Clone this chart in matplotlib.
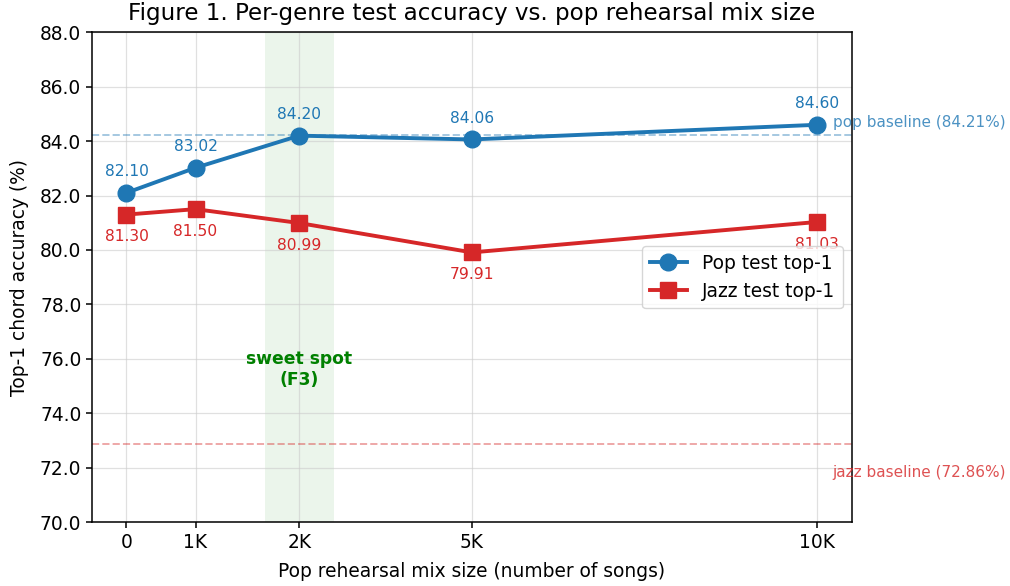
import matplotlib
matplotlib.use('Agg')
import matplotlib.pyplot as plt

# x positions on the axis and their tick labels
x_pos = [0, 1, 2.5, 5, 10]
x_labels = ['0', '1K', '2K', '5K', '10K']

pop_acc = [82.10, 83.02, 84.20, 84.06, 84.60]
jazz_acc = [81.30, 81.50, 80.99, 79.91, 81.03]

pop_baseline = 84.21
jazz_baseline = 72.86

sweet_span = (2.0, 3.0)
y_ticks = [70, 72, 74, 76, 78, 80, 82, 84, 86, 88]

pop_color = '#1f77b4'
jazz_color = '#d62728'

fig, ax = plt.subplots(figsize=(10.1, 5.86), dpi=100)
fig.subplots_adjust(left=0.091, right=0.8435, top=0.945, bottom=0.109)

# vùng sweet spot
ax.axvspan(sweet_span[0], sweet_span[1], color='green', alpha=0.08, lw=0)
ax.text(sum(sweet_span) / 2, 75.6, 'sweet spot\n(F3)', color='green',
        fontsize=12.3, fontweight='bold', ha='center', va='center')

# baselines
ax.axhline(pop_baseline, color=pop_color, ls='--', lw=1.4, alpha=0.4)
ax.axhline(jazz_baseline, color=jazz_color, ls='--', lw=1.4, alpha=0.4)
ax.text(10.22, pop_baseline + 0.48, f'pop baseline ({pop_baseline:.2f}%)',
        color=pop_color, alpha=0.8, fontsize=11, ha='left', va='center', clip_on=False)
ax.text(10.22, jazz_baseline - 1.02, f'jazz baseline ({jazz_baseline:.2f}%)',
        color=jazz_color, alpha=0.8, fontsize=11, ha='left', va='center', clip_on=False)

ax.plot(x_pos, pop_acc, '-o', color=pop_color, lw=2.8, ms=12, label='Pop test top-1')
ax.plot(x_pos, jazz_acc, '-s', color=jazz_color, lw=2.8, ms=12, label='Jazz test top-1')

for x, y in zip(x_pos, pop_acc):
    ax.annotate(f'{y:.2f}', (x, y), xytext=(0, 15), textcoords='offset points',
                ha='center', va='center', color=pop_color, fontsize=11.2)
for x, y in zip(x_pos, jazz_acc):
    ax.annotate(f'{y:.2f}', (x, y), xytext=(0, -16), textcoords='offset points',
                ha='center', va='center', color=jazz_color, fontsize=11.2)

ax.set_xlim(-0.5, 10.5)
ax.set_ylim(70, 88)
ax.set_xticks(x_pos)
ax.set_xticklabels(x_labels)
ax.set_yticks(y_ticks)
ax.set_yticklabels([f'{v:.1f}' for v in y_ticks])
ax.tick_params(labelsize=13.4, width=1.1, length=4)
ax.grid(True, color='#cccccc', alpha=0.6, lw=0.9)
for s in ax.spines.values():
    s.set_linewidth(1.1)

ax.set_xlabel('Pop rehearsal mix size (number of songs)', fontsize=13.4, labelpad=7.5)
ax.set_ylabel('Top-1 chord accuracy (%)', fontsize=13.4, labelpad=8)
ax.set_title('Figure 1. Per-genre test accuracy vs. pop rehearsal mix size', fontsize=16.6, pad=9)
ax.legend(loc='center right', fontsize=13.4)

plt.savefig('out.png', dpi=100)
